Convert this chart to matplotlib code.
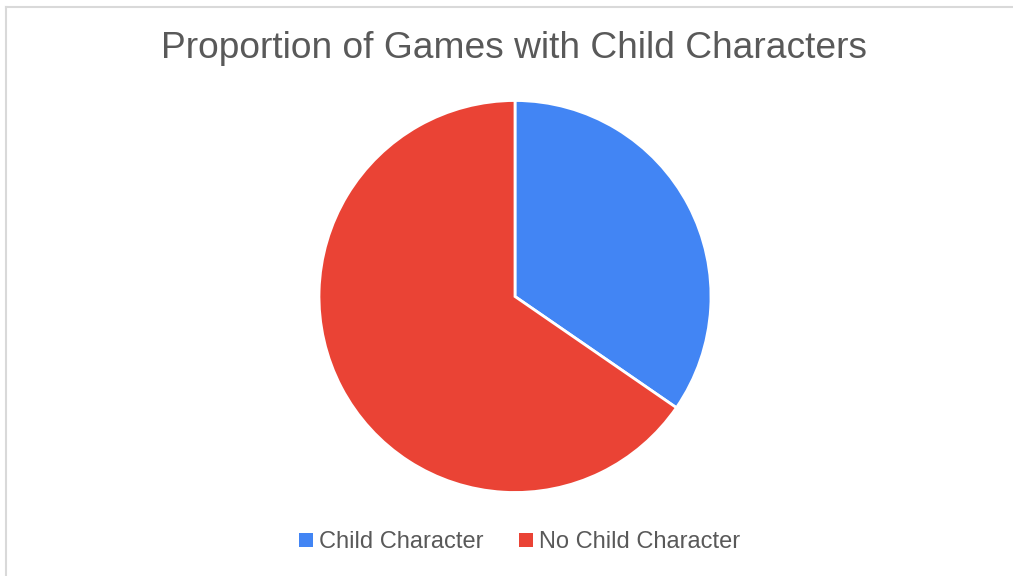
import matplotlib.pyplot as plt
from matplotlib.lines import Line2D

# Share of games featuring a child character (percent)
LABELS = ['Child Character', 'No Child Character']
SHARES = [34.6, 65.4]
COLORS = ['#4285F4', '#EA4335']
TEXT_COLOR = '#595959'
FRAME_COLOR = '#d9d9d9'

W, H = 1013, 576
plt.rcParams['font.family'] = ['Liberation Sans', 'DejaVu Sans']

fig = plt.figure(figsize=(W / 100, H / 100), dpi=100)

# grey frame edges (top and left only, the rest is cropped off)
fig.add_artist(Line2D([5.5 / W, 5.5 / W], [0, 1 - 6.5 / H], transform=fig.transFigure,
                      color=FRAME_COLOR, linewidth=1.5))
fig.add_artist(Line2D([5.5 / W, 1], [1 - 6.5 / H, 1 - 6.5 / H], transform=fig.transFigure,
                      color=FRAME_COLOR, linewidth=1.5))

fig.text(514 / W, 1 - 49 / H, 'Proportion of Games with Child Characters',
         ha='center', va='center', fontsize=26.7, color=TEXT_COLOR)

# pie axes: centre (515, 296.5) px, radius 196 px
cx, cy, r = 515, 296.5, 196
ax = fig.add_axes([(cx - r) / W, (H - cy - r) / H, 2 * r / W, 2 * r / H])
wedges, _ = ax.pie(SHARES, colors=COLORS, startangle=90, counterclock=False,
                   radius=1, wedgeprops=dict(edgecolor='white', linewidth=2))
ax.set_xlim(-1, 1)
ax.set_ylim(-1, 1)
ax.set_aspect('equal')
ax.axis('off')

# square legend keys
handles = [Line2D([], [], linestyle='none', marker='s', markersize=10.5,
                  markerfacecolor=c, markeredgewidth=0) for c in COLORS]
fig.legend(handles, LABELS, loc='center', bbox_to_anchor=(519 / W, 1 - 542 / H),
           ncol=2, frameon=False, fontsize=17, labelcolor=TEXT_COLOR,
           handlelength=0.7, handletextpad=0.2, columnspacing=1.45)

fig.savefig('out.png', dpi=100, facecolor='white')
